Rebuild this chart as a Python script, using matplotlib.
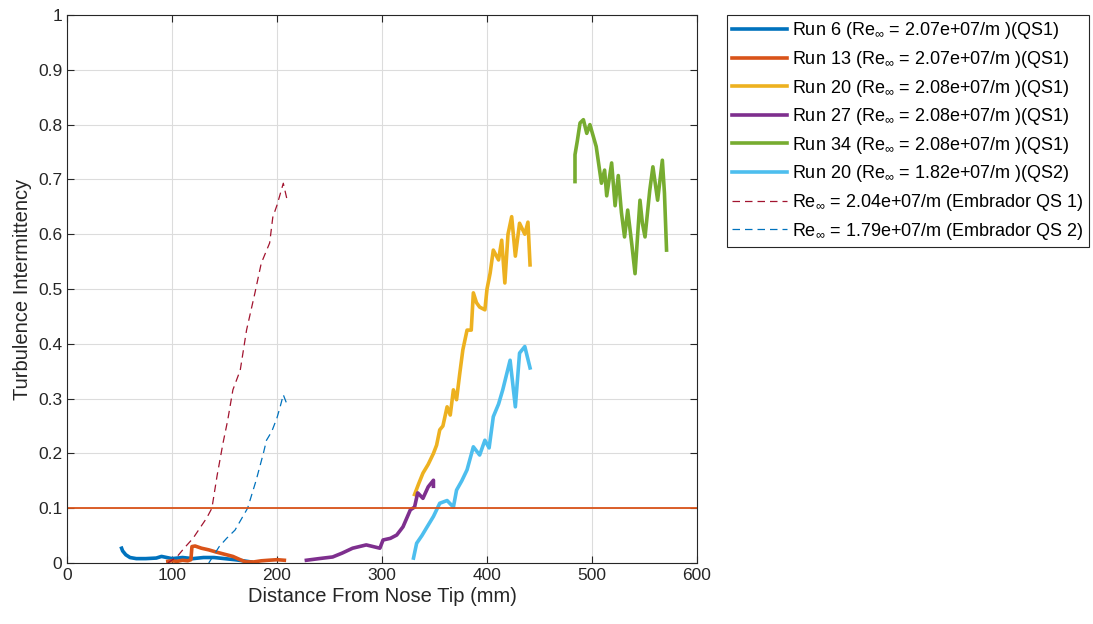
import matplotlib
matplotlib.use("Agg")
import matplotlib.pyplot as plt
import numpy as np

plt.rcParams['font.family'] = ['Liberation Sans', 'DejaVu Sans']
plt.rcParams['mathtext.fontset'] = 'custom'
plt.rcParams['mathtext.rm'] = 'Liberation Sans'
plt.rcParams['mathtext.it'] = 'Liberation Sans:italic'

# Run 6 (QS1)
run6_x = [52, 53, 56, 60, 66, 75, 85, 90, 100, 110, 120, 130, 140, 150, 160, 168, 175]
run6_y = [0.027, 0.022, 0.015, 0.010, 0.008, 0.008, 0.009, 0.012, 0.008, 0.010, 0.008, 0.010, 0.010, 0.008, 0.006, 0.004, 0.002]
# Run 13 (QS1)
run13_x = [96, 100, 105, 110, 115, 118, 119, 122, 128, 135, 142, 150, 158, 165, 170, 178, 185, 192, 200, 207]
run13_y = [0.003, 0.004, 0.003, 0.005, 0.004, 0.006, 0.030, 0.031, 0.027, 0.024, 0.020, 0.016, 0.012, 0.006, 0.002, 0.002, 0.004, 0.005, 0.006, 0.005]
# Run 20 (QS1)
run20_x = [331, 335, 339, 344, 349, 352, 355, 358, 362, 365, 368, 371, 374, 377, 381, 385, 387, 390, 393, 398, 400, 403, 406, 411, 414, 417, 420, 423.5, 427, 431, 436, 439, 441]
run20_y = [0.125, 0.145, 0.164, 0.180, 0.200, 0.215, 0.243, 0.250, 0.285, 0.270, 0.316, 0.298, 0.345, 0.389, 0.425, 0.425, 0.493, 0.475, 0.467, 0.462, 0.500, 0.529, 0.571, 0.553, 0.589, 0.511, 0.600, 0.632, 0.560, 0.620, 0.600, 0.622, 0.544]
# Run 27 (QS1)
run27_x = [228, 240, 253, 262, 272, 285, 298, 301, 308, 314, 320, 327, 331, 334, 339, 344, 349, 349]
run27_y = [0.005, 0.008, 0.011, 0.018, 0.027, 0.033, 0.027, 0.042, 0.045, 0.051, 0.066, 0.097, 0.102, 0.128, 0.118, 0.139, 0.151, 0.140]
# Run 34 (QS1)
run34_x = [483.8, 483.8, 486, 488.6, 491.8, 495, 498, 501, 504, 509, 512, 514, 518.7, 522, 525, 528, 531, 534, 538, 541, 545.7, 548, 550.5, 555, 558, 562.5, 567, 569, 571]
run34_y = [0.696, 0.745, 0.770, 0.803, 0.809, 0.784, 0.800, 0.780, 0.760, 0.693, 0.717, 0.670, 0.730, 0.652, 0.707, 0.640, 0.595, 0.644, 0.580, 0.528, 0.662, 0.620, 0.595, 0.680, 0.723, 0.662, 0.735, 0.675, 0.571]
# Run 20 (QS2)
run20b_x = [330, 333, 338, 343, 349, 355, 362, 368, 371, 376, 381, 387, 393, 398, 402, 406, 411, 415, 422, 427, 431, 436, 441]
run20b_y = [0.009, 0.036, 0.050, 0.066, 0.085, 0.109, 0.114, 0.102, 0.133, 0.150, 0.170, 0.212, 0.197, 0.224, 0.210, 0.267, 0.290, 0.316, 0.370, 0.285, 0.383, 0.395, 0.356]
# Embrador QS 1
emb1_x = [96, 105, 112, 120, 127, 133, 138, 143, 148.6, 153, 158, 165, 171, 179, 185, 193, 196, 200, 206, 209.7]
emb1_y = [0.0, 0.012, 0.028, 0.045, 0.065, 0.082, 0.100, 0.160, 0.219, 0.260, 0.316, 0.352, 0.425, 0.493, 0.547, 0.584, 0.631, 0.653, 0.693, 0.662]
# Embrador QS 2
emb2_x = [135, 140, 145, 152, 160, 166, 172, 176, 180, 187, 190, 195, 200, 203, 206, 209]
emb2_y = [0.0, 0.015, 0.030, 0.045, 0.060, 0.080, 0.100, 0.125, 0.150, 0.200, 0.224, 0.240, 0.265, 0.285, 0.307, 0.292]

threshold = 0.1

labels = [
    r"Run 6 (Re$_{\infty}$ = 2.07e+07/m )(QS1)",
    r"Run 13 (Re$_{\infty}$ = 2.07e+07/m )(QS1)",
    r"Run 20 (Re$_{\infty}$ = 2.08e+07/m )(QS1)",
    r"Run 27 (Re$_{\infty}$ = 2.08e+07/m )(QS1)",
    r"Run 34 (Re$_{\infty}$ = 2.08e+07/m )(QS1)",
    r"Run 20 (Re$_{\infty}$ = 1.82e+07/m )(QS2)",
    r"Re$_{\infty}$ = 2.04e+07/m (Embrador QS 1)",
    r"Re$_{\infty}$ = 1.79e+07/m (Embrador QS 2)",
]

fig = plt.figure(figsize=(10.93, 6.24), dpi=100)
ax = fig.add_axes([67/1093, 1 - 563/624, 630/1093, 548/624])

lw = 2.6
ax.plot(run6_x, run6_y, color='#0072BD', lw=lw, label=labels[0])
ax.plot(run13_x, run13_y, color='#D95319', lw=lw, label=labels[1])
ax.plot(run20_x, run20_y, color='#EDB120', lw=lw, label=labels[2])
ax.plot(run27_x, run27_y, color='#7E2F8E', lw=lw, label=labels[3])
ax.plot(run34_x, run34_y, color='#77AC30', lw=lw, label=labels[4])
ax.plot(run20b_x, run20b_y, color='#4DBEEE', lw=lw, label=labels[5])
ax.plot(emb1_x, emb1_y, color='#A2142F', lw=0.9, ls=(0, (6, 4)), label=labels[6])
ax.plot(emb2_x, emb2_y, color='#0072BD', lw=0.9, ls=(0, (6, 4)), label=labels[7])
ax.axhline(threshold, color='#D95319', lw=1.3)

ax.set_xlim(0, 600)
ax.set_ylim(0, 1)
ax.set_xticks(np.arange(0, 601, 100))
ax.set_yticks(np.arange(0, 1.01, 0.1))
ax.set_yticklabels(['0', '0.1', '0.2', '0.3', '0.4', '0.5', '0.6', '0.7', '0.8', '0.9', '1'])
ax.grid(True, color='#dcdcdc', lw=0.8)
ax.set_axisbelow(True)
ax.tick_params(direction='in', top=True, right=True, labelsize=12.5, colors='#262626', length=5)
for s in ax.spines.values():
    s.set_color('#262626')
    s.set_linewidth(0.8)
ax.set_xlabel('Distance From Nose Tip (mm)', fontsize=14.5, color='#262626', labelpad=3)
ax.set_ylabel('Turbulence Intermittency', fontsize=14.5, color='#262626', labelpad=4)

leg = fig.legend(loc='upper left', bbox_to_anchor=(727/1093, 1 - 15/624), fontsize=13,
                 frameon=True, fancybox=False, edgecolor='#262626', framealpha=1,
                 handlelength=3.0, handletextpad=0.3, labelspacing=0.42, borderpad=0.3,
                 borderaxespad=0)
leg.get_frame().set_linewidth(0.8)

fig.savefig('out.png', dpi=100)
